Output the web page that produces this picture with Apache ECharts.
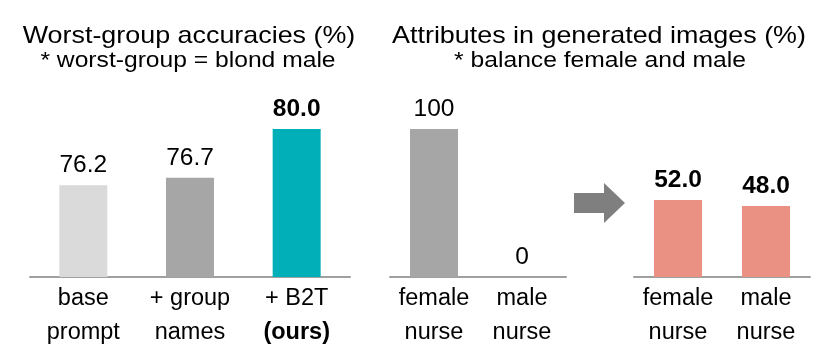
<!DOCTYPE html>
<html>
<head>
<meta charset="utf-8">
<script src="https://cdn.jsdelivr.net/npm/echarts@6/dist/echarts.min.js"></script>
<style>
  html, body { margin:0; padding:0; background:#fff; }
  #chart { width:830px; height:361px; }
</style>
</head>
<body>
<div id="chart"></div>
<script>
// left panel: worst-group accuracy
const accCats = ["base\nprompt", "+ group\nnames", "+ B2T\n(ours)"];
const accVals = [76.2, 76.7, 80.0];
const accColors = ["#d9dad9", "#a6a6a6", "#00afb8"];

// middle: generated images before
const beforeCats = ["female\nnurse", "male\nnurse"];
const beforeVals = [100, 0];

// right: after balancing
const afterCats = ["female\nnurse", "male\nnurse"];
const afterVals = [52.0, 48.0];

const titles = ["Worst-group accuracies (%)", "Attributes in generated images (%)"];
const subtitles = ["* worst-group = blond male", "* balance female and male"];

const FONT = "'Liberation Sans', Arial, sans-serif";
const AXIS_GRAY = "#a0a0a0";

function el(id){ return document.getElementById(id); }

function xAxisFor(idx, cats, fmt){
  return {
    type: "category", gridIndex: idx, data: cats,
    axisLine: { lineStyle: { color: AXIS_GRAY, width: 2 } },
    axisTick: { show: false },
    axisLabel: {
      color: "#000", fontFamily: FONT, fontSize: 23.5, lineHeight: 34,
      margin: 5, interval: 0, formatter: fmt,
      rich: { b: { fontWeight: "bold", fontSize: 23.5, lineHeight: 34, fontFamily: FONT, color: "#000" } }
    }
  };
}

function yAxisFor(idx, min, max){
  return { type: "value", gridIndex: idx, min: min, max: max, show: false, splitLine: { show: false } };
}

function barSeries(idx, vals, colors, boldIdx, fmt){
  return {
    type: "bar", xAxisIndex: idx, yAxisIndex: idx, barWidth: 48,
    data: vals.map((v, i) => ({
      value: v,
      itemStyle: { color: Array.isArray(colors) ? colors[i] : colors },
      label: { fontWeight: boldIdx.includes(i) ? "bold" : "normal" }
    })),
    label: {
      show: true, position: "top", distance: 7, color: "#000",
      fontFamily: FONT, fontSize: 24.5, formatter: fmt
    },
    silent: true
  };
}

// heading text, slightly widened like the original slide font
function heading(text, x, y, size){
  return {
    type: "text", x: x, y: y, scaleX: 1.12, silent: true,
    style: { text: text, fill: "#000", fontFamily: FONT, fontSize: size,
      align: "center", verticalAlign: "middle" }
  };
}

const oneDec = p => p.value.toFixed(1);

const chart = echarts.init(el("chart"), null, { renderer: "canvas" });
chart.setOption({
  animation: false,
  grid: [
    { left: 30, top: 129, width: 320, height: 148 },
    { left: 390, top: 129, width: 176, height: 148 },
    { left: 634, top: 129, width: 176, height: 148 }
  ],
  xAxis: [
    xAxisFor(0, accCats, v => v.replace("(ours)", "{b|(ours)}")),
    xAxisFor(1, beforeCats),
    xAxisFor(2, afterCats)
  ],
  yAxis: [ yAxisFor(0, 70, 80), yAxisFor(1, 0, 100), yAxisFor(2, 0, 100) ],
  series: [
    barSeries(0, accVals, accColors, [2], oneDec),
    barSeries(1, beforeVals, "#a6a6a6", [], p => String(p.value)),
    barSeries(2, afterVals, "#ea9183", [0, 1], oneDec)
  ],
  graphic: [
    heading(titles[0], 189, 36, 24),
    heading(subtitles[0], 188, 60.5, 22),
    heading(titles[1], 599, 36, 24),
    heading(subtitles[1], 600, 60.5, 22),
    {
      type: "polygon", silent: true,
      shape: { points: [[574,193],[604,193],[604,183],[625,203],[604,223],[604,213],[574,213]] },
      style: { fill: "#7f7f7f" }
    }
  ]
});
</script>
</body>
</html>
